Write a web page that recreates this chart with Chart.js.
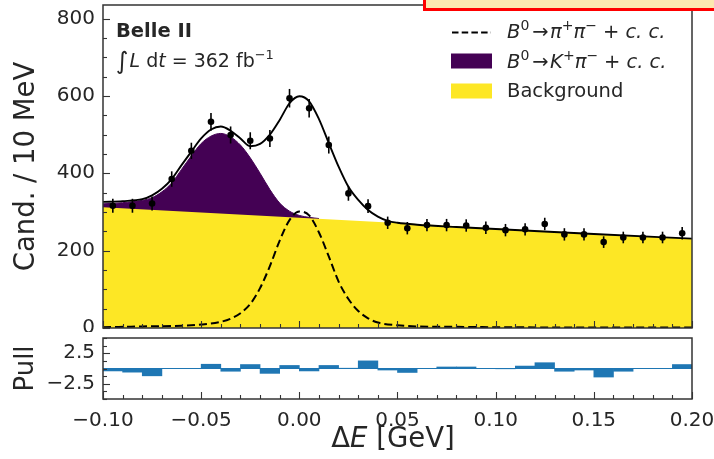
<!DOCTYPE html>
<html><head><meta charset="utf-8">
<script src="https://cdn.jsdelivr.net/npm/chart.js@4.4.1/dist/chart.umd.min.js"></script>
<style>
html,body{margin:0;padding:0;background:#fff;width:714px;height:459px;overflow:hidden;position:relative;}
#main{position:absolute;left:0;top:0;}
#pull{position:absolute;left:0;top:332px;}
#mark{position:absolute;left:423px;top:-25px;width:330px;height:36px;box-sizing:border-box;border:3px solid #ff0000;background:#fce8b0;}
</style></head><body>
<canvas id="main" width="714" height="332"></canvas>
<canvas id="pull" width="714" height="127"></canvas>
<div id="mark"></div>
<script>
// ---------- data ----------
const binCenters = [-0.095,-0.085,-0.075,-0.065,-0.055,-0.045,-0.035,-0.025,-0.015,-0.005,
                    0.005,0.015,0.025,0.035,0.045,0.055,0.065,0.075,0.085,0.095,
                    0.105,0.115,0.125,0.135,0.145,0.155,0.165,0.175,0.185,0.195];
const candidates = [316,316,322,385,458,533,499,484,490,594,
                    568,473,348,315,272,258,266,266,265,259,
                    253,255,269,242,242,222,234,234,234,245];
const candErrors = [18,18,18,20,21,23,22,22,22,24,
                    24,22,19,18,16,16,16,16,16,16,
                    16,16,16,16,16,15,15,15,15,16];
const pulls = [-0.4,-0.6,-1.2,0.0,0.0,0.7,-0.45,0.65,-0.8,0.5,
               -0.4,0.5,0.05,1.25,-0.25,-0.65,0.0,0.25,0.25,0.0,
               -0.05,0.4,0.95,-0.45,-0.25,-1.4,-0.45,0.0,0.0,0.65];

// total fit curve
const fitX = [-0.100,-0.090,-0.080,-0.075,-0.070,-0.065,-0.060,-0.055,-0.050,-0.045,
              -0.040,-0.035,-0.030,-0.025,-0.020,-0.015,-0.010,-0.005,0.000,0.005,
              0.010,0.015,0.020,0.025,0.030,0.035,0.040,0.045,0.050,0.060,
              0.080,0.100,0.150,0.200];
const fitTotal = [326,328,333,343,360,385,421,456,490,513,
                  521,510,490,470,476,500,538,581,599,586,
                  540,478,417,365,331,305,288,277,272,267,
                  261,256,243,231];
// B0 -> K+ pi- component, stacked on the background (top edge)
const kpiX = [-0.100,-0.090,-0.080,-0.075,-0.070,-0.065,-0.060,-0.055,-0.050,-0.045,
              -0.040,-0.035,-0.030,-0.025,-0.020,-0.015,-0.010,-0.005,0.000,0.005,0.010];
const kpiTop = [321,324,330,337,352,375,410,445,477,496,
                503,494,473,440,400,358,323,302,291,286,283];
// background
const bkgX = [-0.100, 0.200];
const bkgY = [312, 231];
// B0 -> pi+ pi- component (dashed)
const pipiX = [-0.100,-0.080,-0.060,-0.050,-0.040,-0.035,-0.030,-0.025,-0.020,-0.015,
               -0.010,-0.005,0.000,0.005,0.010,0.015,0.020,0.025,0.030,0.035,
               0.040,0.050,0.060,0.080,0.100,0.200];
const pipiY = [2,4,6,9,16,24,38,62,103,160,
               226,279,301,291,247,185,120,75,44,25,
               14,7,4,3,2,1];

const xTickValues = [-0.10,-0.05,0.00,0.05,0.10,0.15,0.20];
const yTickValues = [0,200,400,600,800];
const pullTickValues = [-2.5,2.5];

// ---------- styling ----------
const FONT = "'DejaVu Sans', sans-serif";
const TXT = '#262626';
const FRAME = '#333333';
const PURPLE = '#440154', YELLOW = '#fde725', BLUE = '#1f77b4';

function fmt(v, d){ return (v < -1e-9 ? '\u2212' : '') + Math.abs(v).toFixed(d); }
function pts(xa, ya){ return xa.map((x,i)=>({x:x, y:ya[i]})); }
function noPad(s){ s.paddingTop = 0; s.paddingBottom = 0; s.paddingLeft = 0; s.paddingRight = 0; }

function rich(ctx, x, y, parts){
  for (const p of parts){
    const size = p.size || 19.5;
    ctx.font = (p.italic ? 'italic ' : '') + (p.bold ? 'bold ' : '') + size + 'px ' + FONT;
    x += (p.pre || 0);
    ctx.fillText(p.t, x, y - (p.dy || 0));
    x += ctx.measureText(p.t).width + (p.gap || 0);
  }
  return x;
}
function richWidth(ctx, parts){
  let w = 0;
  for (const p of parts){
    const size = p.size || 19.5;
    ctx.font = (p.italic ? 'italic ' : '') + (p.bold ? 'bold ' : '') + size + 'px ' + FONT;
    w += (p.pre||0) + ctx.measureText(p.t).width + (p.gap||0);
  }
  return w;
}

function drawFrame(chart){
  const {ctx, chartArea:a} = chart;
  ctx.save();
  ctx.strokeStyle = FRAME; ctx.lineWidth = 1.5;
  ctx.strokeRect(a.left, a.top, a.right - a.left, a.bottom - a.top);
  ctx.restore();
}
function drawXTicksIn(chart){
  const {ctx, chartArea:a} = chart; const xs = chart.scales.x;
  ctx.save(); ctx.strokeStyle = FRAME; ctx.lineWidth = 1.1;
  for (let i = 0; i <= 30; i++){
    const v = -0.1 + i*0.01; const px = Math.round(xs.getPixelForValue(v)) + 0.5;
    const len = (i % 5 === 0) ? 7 : 4;
    ctx.beginPath(); ctx.moveTo(px, a.bottom); ctx.lineTo(px, a.bottom - len); ctx.stroke();
  }
  ctx.restore();
}
function drawYTicksIn(chart, from, to, step, isMajor){
  const {ctx, chartArea:a} = chart; const ys = chart.scales.y;
  ctx.save(); ctx.strokeStyle = FRAME; ctx.lineWidth = 1.1;
  const n = Math.round((to - from)/step);
  for (let i = 0; i <= n; i++){
    const v = from + i*step; const py = Math.round(ys.getPixelForValue(v)) + 0.5;
    const len = isMajor(v) ? 7 : 4;
    ctx.beginPath(); ctx.moveTo(a.left, py); ctx.lineTo(a.left + len, py); ctx.stroke();
  }
  ctx.restore();
}

const mainDecor = {
  id: 'mainDecor',
  afterDatasetsDraw(chart){
    const ctx = chart.ctx, xs = chart.scales.x, ys = chart.scales.y;
    ctx.save();
    ctx.strokeStyle = '#000'; ctx.lineWidth = 1.6;
    binCenters.forEach((c,i)=>{
      const px = xs.getPixelForValue(c);
      ctx.beginPath();
      ctx.moveTo(px, ys.getPixelForValue(candidates[i] - candErrors[i]));
      ctx.lineTo(px, ys.getPixelForValue(candidates[i] + candErrors[i]));
      ctx.stroke();
    });
    ctx.restore();
  },
  afterDraw(chart){
    const ctx = chart.ctx;
    drawFrame(chart);
    drawXTicksIn(chart);
    drawYTicksIn(chart, 0, 800, 50, v => Math.abs(v % 200) < 1e-6);
    ctx.save();
    ctx.fillStyle = TXT; ctx.textBaseline = 'alphabetic'; ctx.textAlign = 'left';
    // experiment label
    rich(ctx, 116, 37, [{t:'Belle II', bold:true, size:19.5}]);
    rich(ctx, 116, 66.5, [
      {t:'\u222B', size:24, dy:-2, gap:1},
      {t:'L', italic:true, size:19},
      {t:' d', size:19},
      {t:'t', italic:true, size:19},
      {t:' = 362 fb', size:19},
      {t:'\u22121', size:13, dy:8}
    ]);
    // legend
    ctx.strokeStyle = '#000'; ctx.lineWidth = 1.8; ctx.setLineDash([6.5, 3.2]);
    ctx.beginPath(); ctx.moveTo(452, 32.5); ctx.lineTo(491, 32.5); ctx.stroke();
    ctx.setLineDash([]);
    ctx.fillStyle = PURPLE; ctx.fillRect(451, 53.5, 41, 15);
    ctx.fillStyle = YELLOW; ctx.fillRect(451, 83.5, 41, 15);
    ctx.fillStyle = TXT;
    rich(ctx, 507, 38, [
      {t:'B', italic:true}, {t:'0', size:14, dy:8, gap:3},
      {t:'\u2192', gap:1.5}, {t:'\u03C0', italic:true}, {t:'+', size:14, dy:8},
      {t:'\u03C0', italic:true}, {t:'\u2212', size:14, dy:8, gap:6},
      {t:'+', gap:6}, {t:'c. c.', italic:true}
    ]);
    rich(ctx, 507, 68, [
      {t:'B', italic:true}, {t:'0', size:14, dy:8, gap:3},
      {t:'\u2192', gap:1.5}, {t:'K', italic:true}, {t:'+', size:14, dy:8},
      {t:'\u03C0', italic:true}, {t:'\u2212', size:14, dy:8, gap:6},
      {t:'+', gap:6}, {t:'c. c.', italic:true}
    ]);
    rich(ctx, 507, 96.5, [{t:'Background'}]);
    ctx.restore();
  }
};

const pullDecor = {
  id: 'pullDecor',
  afterDraw(chart){
    const ctx = chart.ctx;
    drawFrame(chart);
    drawXTicksIn(chart);
    drawYTicksIn(chart, -5, 5, 1.25, v => Math.abs(Math.abs(v) - 2.5) < 1e-6);
    // x-axis title with italic E
    const parts = [{t:'\u0394', size:27.5}, {t:'E', italic:true, size:27.5}, {t:' [GeV]', size:27.5}];
    ctx.save();
    ctx.fillStyle = TXT; ctx.textBaseline = 'alphabetic';
    const w = richWidth(ctx, parts);
    rich(ctx, 393 - w/2, 115, parts);
    ctx.restore();
  }
};

// ---------- main panel ----------
new Chart(document.getElementById('main'), {
  type: 'line',
  data: { datasets: [
    { label:'Data', data: pts(binCenters, candidates), showLine:false, pointRadius:3.3,
      pointBackgroundColor:'#000', pointBorderWidth:0, order:0 },
    { label:'Fit', data: pts(fitX, fitTotal), borderColor:'#000', borderWidth:1.9, pointRadius:0,
      cubicInterpolationMode:'monotone', fill:false, order:1 },
    { label:'B0 -> pi+ pi- + c.c.', data: pts(pipiX, pipiY), borderColor:'#000', borderWidth:2,
      borderDash:[8,4], pointRadius:0, cubicInterpolationMode:'monotone', fill:false, order:2 },
    { label:'Background', data: pts(bkgX, bkgY), borderWidth:0, borderColor:YELLOW,
      backgroundColor:YELLOW, fill:'origin', pointRadius:0, order:3 },
    { label:'B0 -> K+ pi- + c.c.', data: pts(kpiX, kpiTop), borderWidth:1, borderColor:PURPLE,
      backgroundColor:PURPLE, fill:'origin', pointRadius:0, cubicInterpolationMode:'monotone', order:4 }
  ]},
  options: {
    responsive:false, animation:false, devicePixelRatio:1,
    layout:{ padding:{ left:0, right:22, top:5, bottom:4 } },
    plugins:{ legend:{display:false}, tooltip:{enabled:false} },
    scales:{
      x:{ type:'linear', min:-0.1, max:0.2, display:false },
      y:{ type:'linear', min:0, max:835,
          grid:{display:false, drawTicks:false}, border:{display:false},
          afterBuildTicks: s => { s.ticks = yTickValues.map(v=>({value:v})); },
          afterFit: s => { s.width = 103; noPad(s); },
          ticks:{ padding:8, color:TXT, font:{family:FONT, size:20}, callback: v => String(v) },
          title:{ display:true, text:'Cand. / 10 MeV', color:TXT, font:{family:FONT, size:27.5},
                  padding:{top:10, bottom:0} } }
    }
  },
  plugins:[mainDecor]
});

// ---------- pull panel ----------
new Chart(document.getElementById('pull'), {
  type: 'bar',
  data: { datasets: [
    { type:'bar', label:'Pull', data: pts(binCenters, pulls), backgroundColor:BLUE, borderWidth:0,
      barPercentage:1, categoryPercentage:1, order:0 },
    { type:'line', label:'zero', data: pts([-0.1, 0.2], [0, 0]), borderColor:BLUE, borderWidth:1.2,
      pointRadius:0, fill:false, order:1 }
  ]},
  options: {
    responsive:false, animation:false, devicePixelRatio:1,
    layout:{ padding:{ left:0, right:22, top:6, bottom:0 } },
    plugins:{ legend:{display:false}, tooltip:{enabled:false} },
    scales:{
      x:{ type:'linear', min:-0.1, max:0.2, offset:false,
          grid:{display:false, drawTicks:false}, border:{display:false},
          afterBuildTicks: s => { s.ticks = xTickValues.map(v=>({value:v})); },
          afterFit: s => { s.height = 60; noPad(s); },
          ticks:{ padding:10, color:TXT, font:{family:FONT, size:20}, maxRotation:0, autoSkip:false,
                  callback: v => fmt(v, 2) } },
      y:{ type:'linear', min:-5, max:5,
          grid:{display:false, drawTicks:false}, border:{display:false},
          afterBuildTicks: s => { s.ticks = pullTickValues.map(v=>({value:v})); },
          afterFit: s => { s.width = 103; noPad(s); },
          ticks:{ padding:8, color:TXT, font:{family:FONT, size:20}, callback: v => fmt(v, 1) },
          title:{ display:true, text:'Pull', color:TXT, font:{family:FONT, size:26},
                  padding:{top:11, bottom:0} } }
    }
  },
  plugins:[pullDecor]
});
</script>
</body></html>
